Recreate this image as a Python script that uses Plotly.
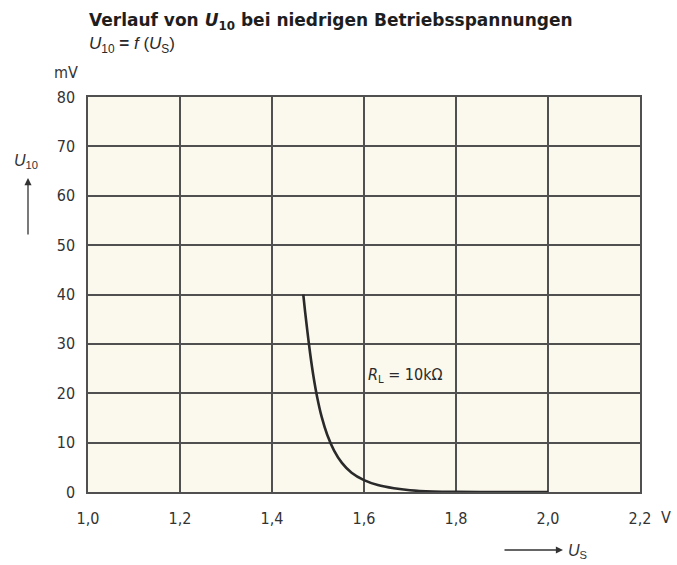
import plotly.graph_objects as go

# Data
us_volts = [1.468, 1.472, 1.477, 1.483, 1.490, 1.498, 1.508, 1.520, 1.535, 1.552, 1.573, 1.600, 1.630, 1.665, 1.700, 1.750, 1.800, 1.900, 2.000]
u10_mv = [40.0, 36.5, 32.5, 28.0, 23.5, 19.3, 15.2, 11.6, 8.4, 5.9, 3.9, 2.4, 1.4, 0.75, 0.35, 0.1, 0.02, 0.0, 0.0]

x_ticks = [1.0, 1.2, 1.4, 1.6, 1.8, 2.0, 2.2]
x_tick_labels = ["1,0", "1,2", "1,4", "1,6", "1,8", "2,0", "2,2"]
y_ticks = [0, 10, 20, 30, 40, 50, 60, 70, 80]
y_tick_labels = ["0", "10", "20", "30", "40", "50", "60", "70", "80"]

ink = "#2a2a2a"
grid = "#505050"
tick_font = dict(family="Liberation Sans Narrow, DejaVu Sans Condensed, Arial Narrow, sans-serif", size=16, color="#333333")

fig = go.Figure()
fig.add_trace(go.Scatter(
    x=us_volts, y=u10_mv, mode="lines",
    line=dict(color=ink, width=2.6, shape="spline", smoothing=0.8),
    hoverinfo="skip", showlegend=False,
))

fig.update_layout(
    width=677, height=565,
    margin=dict(l=88, r=37, t=97, b=73),
    paper_bgcolor="white",
    plot_bgcolor="#fbf8ee",
    font=dict(family="Liberation Sans, Arial, sans-serif", color=ink),
    xaxis=dict(
        range=[1.0, 2.2], tickvals=x_ticks, ticktext=x_tick_labels,
        showgrid=True, gridcolor=grid, gridwidth=1.5,
        showline=True, linecolor=grid, linewidth=1.5, mirror=True,
        ticks="", tickfont=tick_font, ticklabelstandoff=11, zeroline=False,
        fixedrange=True,
    ),
    yaxis=dict(
        range=[0, 80], tickvals=y_ticks, ticktext=y_tick_labels,
        showgrid=True, gridcolor=grid, gridwidth=1.5,
        showline=True, linecolor=grid, linewidth=1.5, mirror=True,
        ticks="", tickfont=tick_font, ticklabelstandoff=8, zeroline=False,
        fixedrange=True,
    ),
)

def px(xp):
    return (xp - 88) / 552.0

def py(yp):
    return (492 - yp) / 395.0

annos = [
    dict(x=px(87), y=py(21), text="<b>Verlauf von <i>U</i><sub>10</sub> bei niedrigen Betriebsspannungen</b>",
         xanchor="left", yanchor="middle", font=dict(family="DejaVu Sans, sans-serif", size=17, color="#1e1e1e")),
    dict(x=px(87), y=py(45), text="<i>U</i><sub>10</sub> <b>=</b> <i>f</i> (<i>U</i><sub>S</sub>)",
         xanchor="left", yanchor="middle", font=dict(size=17, color="#2a2a2a")),
    dict(x=px(80), y=py(73), text="mV", xanchor="right", yanchor="middle", font=tick_font),
    dict(x=px(659), y=py(517), text="V", xanchor="left", yanchor="middle", font=tick_font),
    dict(x=px(26), y=py(161), text="<i>U</i><sub>10</sub>", xanchor="center", yanchor="middle",
         font=dict(size=16, color="#333")),
    dict(x=px(566), y=py(551), text="<i>U</i><sub>S</sub>", xanchor="left", yanchor="middle",
         font=dict(size=16, color="#333")),
    dict(x=1.69, y=23.5, xref="x", yref="y", text="<i>R</i><sub>L</sub> = 10kΩ", xanchor="center", yanchor="middle",
         font=dict(family="Liberation Sans Narrow, DejaVu Sans Condensed, sans-serif", size=16, color="#2a2a2a")),
]
for a in annos:
    a.setdefault("xref", "paper")
    a.setdefault("yref", "paper")
    a["showarrow"] = False
    fig.add_annotation(**a)

# arrows
fig.add_annotation(x=px(28), y=py(178), xref="paper", yref="paper", ax=0, ay=58,
                   axref="pixel", ayref="pixel", text="", showarrow=True, arrowhead=2,
                   arrowsize=1.1, arrowwidth=1.3, arrowcolor="#333")
fig.add_annotation(x=px(563), y=py(550), xref="paper", yref="paper", ax=-60, ay=0,
                   axref="pixel", ayref="pixel", text="", showarrow=True, arrowhead=2,
                   arrowsize=1.1, arrowwidth=1.3, arrowcolor="#333")

fig.write_html("out.html", config={"displayModeBar": False},
               post_script="document.body.style.margin='0px';")
